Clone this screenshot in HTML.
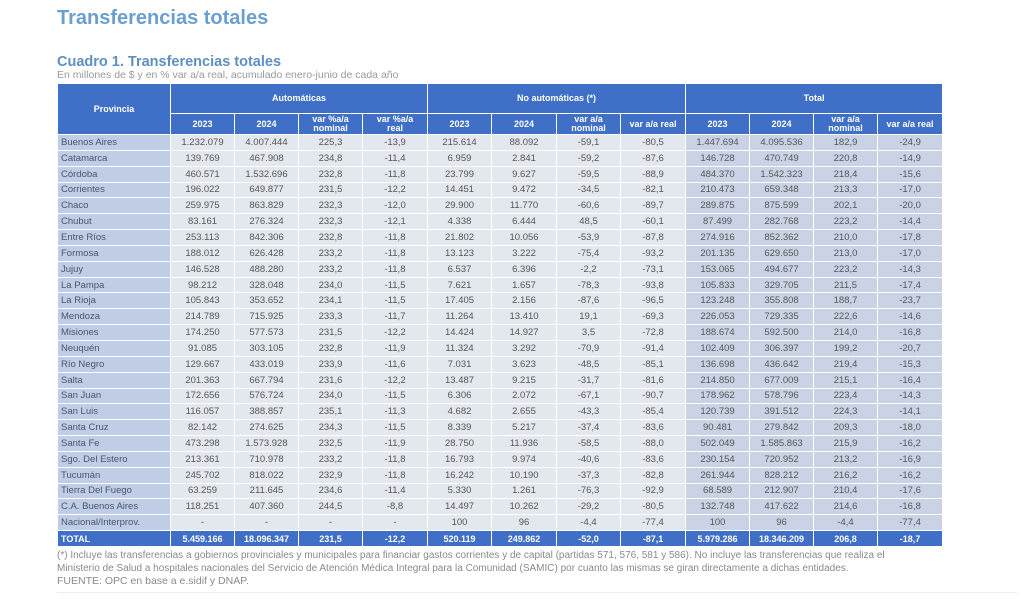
<!DOCTYPE html>
<html><head><meta charset="utf-8"><style>
body{margin:0;width:1024px;height:609px;background:#fff;font-family:"Liberation Sans",sans-serif;position:relative;overflow:hidden}
.t1{position:absolute;left:57px;top:7px;font-size:20px;font-weight:bold;color:#6b9fcf}
.t2{position:absolute;left:57px;top:54px;font-size:14.5px;font-weight:bold;color:#5f90c2}
.t3{position:absolute;left:57px;top:69px;font-size:10.5px;color:#9a9a9a}
table{position:absolute;left:57px;top:83px;border-collapse:collapse;table-layout:fixed;width:886px}
td,th{border:1px solid #fff;padding:0;text-align:center;font-size:9.5px;color:#555;white-space:nowrap;overflow:hidden}
th{background:#3f6fc6;color:#fff;font-weight:bold;font-size:9px;line-height:9px}
tr.h1 th{height:29px}
tr.h2 th{height:20px}
tbody td{height:14.85px;background:#e3e7ee}
tbody td:first-child{background:#bfcde7;text-align:left;padding-left:3px;color:#4a5570}
tbody td.g{background:#c9d3e5}
tr.tot td{background:#3f6fc6!important;color:#fff;font-weight:bold;font-size:9px}
.f{position:absolute;left:57px;font-size:10px;color:#8a8a8a;white-space:nowrap}
</style></head><body>
<div class="t1">Transferencias totales</div>
<div class="t2">Cuadro 1. Transferencias totales</div>
<div class="t3">En millones de $ y en % var a/a real, acumulado enero-junio de cada año</div>
<table>
<colgroup><col style="width:113px"><col style="width:64px"><col style="width:64px"><col style="width:64px"><col style="width:65px"><col style="width:64px"><col style="width:65px"><col style="width:64px"><col style="width:65px"><col style="width:64px"><col style="width:64px"><col style="width:64px"><col style="width:65px"></colgroup>
<thead>
<tr class="h1"><th rowspan="2">Provincia</th><th colspan="4">Automáticas</th><th colspan="4">No automáticas (*)</th><th colspan="4">Total</th></tr>
<tr class="h2"><th>2023</th><th>2024</th><th>var %a/a<br>nominal</th><th>var %a/a<br>real</th><th>2023</th><th>2024</th><th>var a/a<br>nominal</th><th>var a/a real</th><th>2023</th><th>2024</th><th>var a/a<br>nominal</th><th>var a/a real</th></tr>
</thead>
<tbody>
<tr><td>Buenos Aires</td><td>1.232.079</td><td>4.007.444</td><td>225,3</td><td>-13,9</td><td>215.614</td><td>88.092</td><td>-59,1</td><td>-80,5</td><td class="g">1.447.694</td><td class="g">4.095.536</td><td class="g">182,9</td><td class="g">-24,9</td></tr>
<tr><td>Catamarca</td><td>139.769</td><td>467.908</td><td>234,8</td><td>-11,4</td><td>6.959</td><td>2.841</td><td>-59,2</td><td>-87,6</td><td class="g">146.728</td><td class="g">470.749</td><td class="g">220,8</td><td class="g">-14,9</td></tr>
<tr><td>Córdoba</td><td>460.571</td><td>1.532.696</td><td>232,8</td><td>-11,8</td><td>23.799</td><td>9.627</td><td>-59,5</td><td>-88,9</td><td class="g">484.370</td><td class="g">1.542.323</td><td class="g">218,4</td><td class="g">-15,6</td></tr>
<tr><td>Corrientes</td><td>196.022</td><td>649.877</td><td>231,5</td><td>-12,2</td><td>14.451</td><td>9.472</td><td>-34,5</td><td>-82,1</td><td class="g">210.473</td><td class="g">659.348</td><td class="g">213,3</td><td class="g">-17,0</td></tr>
<tr><td>Chaco</td><td>259.975</td><td>863.829</td><td>232,3</td><td>-12,0</td><td>29.900</td><td>11.770</td><td>-60,6</td><td>-89,7</td><td class="g">289.875</td><td class="g">875.599</td><td class="g">202,1</td><td class="g">-20,0</td></tr>
<tr><td>Chubut</td><td>83.161</td><td>276.324</td><td>232,3</td><td>-12,1</td><td>4.338</td><td>6.444</td><td>48,5</td><td>-60,1</td><td class="g">87.499</td><td class="g">282.768</td><td class="g">223,2</td><td class="g">-14,4</td></tr>
<tr><td>Entre Ríos</td><td>253.113</td><td>842.306</td><td>232,8</td><td>-11,8</td><td>21.802</td><td>10.056</td><td>-53,9</td><td>-87,8</td><td class="g">274.916</td><td class="g">852.362</td><td class="g">210,0</td><td class="g">-17,8</td></tr>
<tr><td>Formosa</td><td>188.012</td><td>626.428</td><td>233,2</td><td>-11,8</td><td>13.123</td><td>3.222</td><td>-75,4</td><td>-93,2</td><td class="g">201.135</td><td class="g">629.650</td><td class="g">213,0</td><td class="g">-17,0</td></tr>
<tr><td>Jujuy</td><td>146.528</td><td>488.280</td><td>233,2</td><td>-11,8</td><td>6.537</td><td>6.396</td><td>-2,2</td><td>-73,1</td><td class="g">153.065</td><td class="g">494.677</td><td class="g">223,2</td><td class="g">-14,3</td></tr>
<tr><td>La Pampa</td><td>98.212</td><td>328.048</td><td>234,0</td><td>-11,5</td><td>7.621</td><td>1.657</td><td>-78,3</td><td>-93,8</td><td class="g">105.833</td><td class="g">329.705</td><td class="g">211,5</td><td class="g">-17,4</td></tr>
<tr><td>La Rioja</td><td>105.843</td><td>353.652</td><td>234,1</td><td>-11,5</td><td>17.405</td><td>2.156</td><td>-87,6</td><td>-96,5</td><td class="g">123.248</td><td class="g">355.808</td><td class="g">188,7</td><td class="g">-23,7</td></tr>
<tr><td>Mendoza</td><td>214.789</td><td>715.925</td><td>233,3</td><td>-11,7</td><td>11.264</td><td>13.410</td><td>19,1</td><td>-69,3</td><td class="g">226.053</td><td class="g">729.335</td><td class="g">222,6</td><td class="g">-14,6</td></tr>
<tr><td>Misiones</td><td>174.250</td><td>577.573</td><td>231,5</td><td>-12,2</td><td>14.424</td><td>14.927</td><td>3,5</td><td>-72,8</td><td class="g">188.674</td><td class="g">592.500</td><td class="g">214,0</td><td class="g">-16,8</td></tr>
<tr><td>Neuquén</td><td>91.085</td><td>303.105</td><td>232,8</td><td>-11,9</td><td>11.324</td><td>3.292</td><td>-70,9</td><td>-91,4</td><td class="g">102.409</td><td class="g">306.397</td><td class="g">199,2</td><td class="g">-20,7</td></tr>
<tr><td>Río Negro</td><td>129.667</td><td>433.019</td><td>233,9</td><td>-11,6</td><td>7.031</td><td>3.623</td><td>-48,5</td><td>-85,1</td><td class="g">136.698</td><td class="g">436.642</td><td class="g">219,4</td><td class="g">-15,3</td></tr>
<tr><td>Salta</td><td>201.363</td><td>667.794</td><td>231,6</td><td>-12,2</td><td>13.487</td><td>9.215</td><td>-31,7</td><td>-81,6</td><td class="g">214.850</td><td class="g">677.009</td><td class="g">215,1</td><td class="g">-16,4</td></tr>
<tr><td>San Juan</td><td>172.656</td><td>576.724</td><td>234,0</td><td>-11,5</td><td>6.306</td><td>2.072</td><td>-67,1</td><td>-90,7</td><td class="g">178.962</td><td class="g">578.796</td><td class="g">223,4</td><td class="g">-14,3</td></tr>
<tr><td>San Luis</td><td>116.057</td><td>388.857</td><td>235,1</td><td>-11,3</td><td>4.682</td><td>2.655</td><td>-43,3</td><td>-85,4</td><td class="g">120.739</td><td class="g">391.512</td><td class="g">224,3</td><td class="g">-14,1</td></tr>
<tr><td>Santa Cruz</td><td>82.142</td><td>274.625</td><td>234,3</td><td>-11,5</td><td>8.339</td><td>5.217</td><td>-37,4</td><td>-83,6</td><td class="g">90.481</td><td class="g">279.842</td><td class="g">209,3</td><td class="g">-18,0</td></tr>
<tr><td>Santa Fe</td><td>473.298</td><td>1.573.928</td><td>232,5</td><td>-11,9</td><td>28.750</td><td>11.936</td><td>-58,5</td><td>-88,0</td><td class="g">502.049</td><td class="g">1.585.863</td><td class="g">215,9</td><td class="g">-16,2</td></tr>
<tr><td>Sgo. Del Estero</td><td>213.361</td><td>710.978</td><td>233,2</td><td>-11,8</td><td>16.793</td><td>9.974</td><td>-40,6</td><td>-83,6</td><td class="g">230.154</td><td class="g">720.952</td><td class="g">213,2</td><td class="g">-16,9</td></tr>
<tr><td>Tucumán</td><td>245.702</td><td>818.022</td><td>232,9</td><td>-11,8</td><td>16.242</td><td>10.190</td><td>-37,3</td><td>-82,8</td><td class="g">261.944</td><td class="g">828.212</td><td class="g">216,2</td><td class="g">-16,2</td></tr>
<tr><td>Tierra Del Fuego</td><td>63.259</td><td>211.645</td><td>234,6</td><td>-11,4</td><td>5.330</td><td>1.261</td><td>-76,3</td><td>-92,9</td><td class="g">68.589</td><td class="g">212.907</td><td class="g">210,4</td><td class="g">-17,6</td></tr>
<tr><td>C.A. Buenos Aires</td><td>118.251</td><td>407.360</td><td>244,5</td><td>-8,8</td><td>14.497</td><td>10.262</td><td>-29,2</td><td>-80,5</td><td class="g">132.748</td><td class="g">417.622</td><td class="g">214,6</td><td class="g">-16,8</td></tr>
<tr><td>Nacional/Interprov.</td><td>-</td><td>-</td><td>-</td><td>-</td><td>100</td><td>96</td><td>-4,4</td><td>-77,4</td><td class="g">100</td><td class="g">96</td><td class="g">-4,4</td><td class="g">-77,4</td></tr>
<tr class="tot"><td>TOTAL</td><td>5.459.166</td><td>18.096.347</td><td>231,5</td><td>-12,2</td><td>520.119</td><td>249.862</td><td>-52,0</td><td>-87,1</td><td>5.979.286</td><td>18.346.209</td><td>206,8</td><td>-18,7</td></tr>
</tbody></table>
<div class="f" style="top:550px">(*) Incluye las transferencias a gobiernos provinciales y municipales para financiar gastos corrientes y de capital (partidas 571, 576, 581 y 586). No incluye las transferencias que realiza el</div>
<div class="f" style="top:563px">Ministerio de Salud a hospitales nacionales del Servicio de Atención Médica Integral para la Comunidad (SAMIC) por cuanto las mismas se giran directamente a dichas entidades.</div>
<div class="f" style="top:575px;font-size:10.5px">FUENTE: OPC en base a e.sidif y DNAP.</div>
<div style="position:absolute;left:57px;top:592px;width:960px;height:1px;background:#eee"></div>
</body></html>
